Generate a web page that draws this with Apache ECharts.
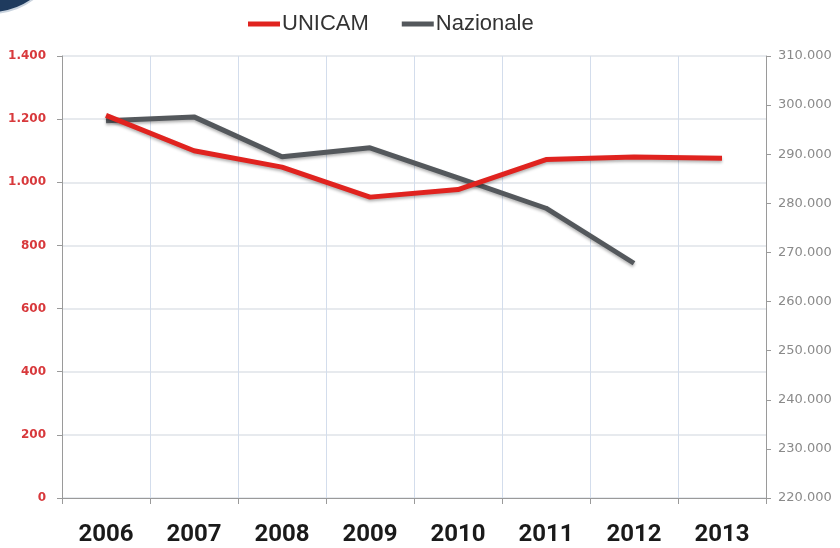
<!DOCTYPE html>
<html>
<head>
<meta charset="utf-8">
<script src="https://cdn.jsdelivr.net/npm/echarts@6/dist/echarts.min.js"></script>
<style>
  html, body { margin: 0; padding: 0; background: #fff; }
  #chart { width: 840px; height: 548px; }
</style>
</head>
<body>
<div id="chart"></div>
<script>
// dati
const anni = ["2006", "2007", "2008", "2009", "2010", "2011", "2012", "2013"];
const unicam = [1212, 1100, 1048, 953, 977, 1072, 1080, 1076];
const nazionale = [296800, 297600, 289500, 291300, 285200, 279000, 267800, null];

// separatore migliaia all'italiana
const fmt = (v) => String(v).replace(/\B(?=(\d{3})+(?!\d))/g, ".");

const chart = echarts.init(document.getElementById("chart"));

chart.setOption({
  animation: false,
  textStyle: { fontFamily: "Liberation Sans, Arial, sans-serif" },
  graphic: [
    {
      // pezzo del logo nell'angolo
      type: "circle",
      shape: { cx: -10, cy: -60, r: 73 },
      style: { fill: "#1f3b5e", stroke: "#c9d3de", lineWidth: 2 },
      silent: true,
    },
  ],
  legend: {
    top: 8,
    left: 243,
    itemWidth: 32,
    itemHeight: 5,
    itemGap: 33,
    icon: "rect",
    textStyle: { fontSize: 22, color: "#333", padding: [0, 0, 0, -3] },
    data: ["UNICAM", "Nazionale"],
  },
  grid: { left: 62, right: 74, top: 56, bottom: 50 },
  xAxis: {
    type: "category",
    data: anni,
    boundaryGap: true,
    axisLine: { lineStyle: { color: "#9a9a9a", width: 1 } },
    axisTick: { show: true, length: 6, lineStyle: { color: "#9a9a9a" } },
    axisLabel: {
      fontSize: 24,
      fontWeight: "bold",
      color: "#1a1a1a",
      margin: 25,
      fontFamily: "Roboto, sans-serif",
    },
    splitLine: { show: true, lineStyle: { color: "#d3ddec", width: 1 } },
  },
  yAxis: [
    {
      type: "value",
      min: 0,
      max: 1400,
      interval: 200,
      position: "left",
      axisLine: { show: true, lineStyle: { color: "#9a9a9a" } },
      axisTick: { show: true, length: 5, lineStyle: { color: "#9a9a9a" } },
      axisLabel: {
        color: "#d8393c",
        fontSize: 12,
        fontWeight: "bold",
        margin: 16,
        fontFamily: "DejaVu Sans, sans-serif",
        formatter: fmt,
      },
      splitLine: { show: true, lineStyle: { color: "#dfe3e8", width: 1.5 } },
    },
    {
      type: "value",
      min: 220000,
      max: 310000,
      interval: 10000,
      position: "right",
      axisLine: { show: true, lineStyle: { color: "#9a9a9a" } },
      axisTick: { show: true, length: 5, lineStyle: { color: "#9a9a9a" } },
      axisLabel: {
        color: "#8a8a8a",
        fontSize: 13,
        margin: 12,
        fontFamily: "DejaVu Sans, sans-serif",
        formatter: fmt,
      },
      splitLine: { show: false },
    },
  ],
  series: [
    {
      name: "UNICAM",
      type: "line",
      yAxisIndex: 0,
      data: unicam,
      symbol: "none",
      color: "#e0231f",
      lineStyle: {
        width: 5,
        color: "#e0231f",
        shadowColor: "rgba(0,0,0,0.3)",
        shadowBlur: 3,
        shadowOffsetY: 2,
      },
      z: 3,
    },
    {
      name: "Nazionale",
      type: "line",
      yAxisIndex: 1,
      data: nazionale,
      symbol: "none",
      color: "#54585c",
      lineStyle: {
        width: 5,
        color: "#54585c",
        shadowColor: "rgba(0,0,0,0.3)",
        shadowBlur: 3,
        shadowOffsetY: 2,
      },
      z: 2,
    },
  ],
});
</script>
</body>
</html>
